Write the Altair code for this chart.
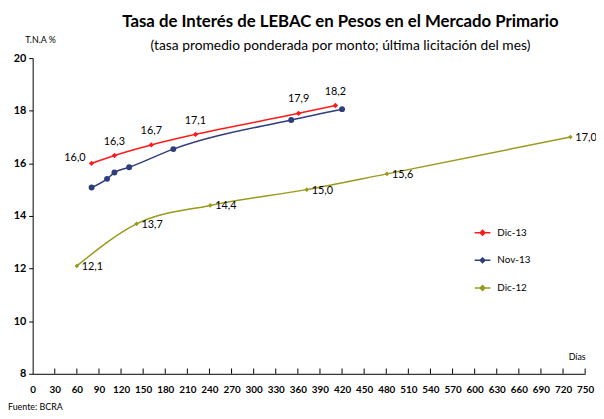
import altair as alt
import pandas as pd

series_names = ["Dic-13", "Nov-13", "Dic-12"]
series_colors = ["#ff1a1a", "#2f3d7c", "#999a1c"]

dic13_dias = [80, 111, 161, 221, 361, 411]
dic13_tasa = [16.0, 16.3, 16.7, 17.1, 17.9, 18.2]
nov13_dias = [80, 101, 111, 131, 191, 351, 420]
nov13_tasa = [15.08, 15.41, 15.65, 15.85, 16.54, 17.65, 18.06]
dic12_dias = [60, 141, 241, 372, 481, 730]
dic12_tasa = [12.1, 13.7, 14.4, 15.0, 15.6, 17.0]

x_ticks = list(range(0, 751, 30))
y_ticks = list(range(8, 21, 2))

rows = []
for name, dias, tasa in [("Dic-13", dic13_dias, dic13_tasa),
                         ("Nov-13", nov13_dias, nov13_tasa),
                         ("Dic-12", dic12_dias, dic12_tasa)]:
    for i, (d, t) in enumerate(zip(dias, tasa)):
        rows.append({"serie": name, "dias": d, "tasa": t, "orden": i,
                     "label": f"{t:.1f}".replace(".", ",")})
df = pd.DataFrame(rows)
ticks_df = pd.DataFrame({"dias": x_ticks[1:], "y0": [8] * (len(x_ticks) - 1),
                         "y1": [8.2] * (len(x_ticks) - 1)})

FONT = "Lato"
xscale = alt.Scale(domain=[0, 750], nice=False, zero=False)
yscale = alt.Scale(domain=[8, 20], nice=False, zero=False)

x_enc = alt.X("dias:Q", scale=xscale, axis=alt.Axis(
    values=x_ticks, tickCount=len(x_ticks) + 2, title="Días", titleX=560,
    titleAlign="right", titleY=-21))
y_enc = alt.Y("tasa:Q", scale=yscale, axis=alt.Axis(
    values=y_ticks, tickCount=len(y_ticks) + 2, title="T.N.A %", titleAngle=0,
    titleAlign="left", titleBaseline="middle", titleX=-8, titleY=-19))

color = alt.Color("serie:N", scale=alt.Scale(domain=series_names, range=series_colors),
                  legend=alt.Legend(
                      orient="none", legendX=447, legendY=168, title=None,
                      labelFontSize=10, labelFont=FONT, labelColor="black",
                      symbolType="M-1,0L1,0M-0.3,0L0,-0.3L0.3,0L0,0.3Z",
                      symbolSize=256, symbolStrokeWidth=1.5, rowPadding=13,
                      labelOffset=6))

base = alt.Chart(df)
lines = base.mark_line(strokeWidth=1.5, interpolate="monotone").encode(
    x=x_enc, y=y_enc, color=color, order="dias:Q")

color_nolegend = alt.Color("serie:N", scale=alt.Scale(domain=series_names, range=series_colors),
                           legend=None)
xs = alt.X("dias:Q", scale=xscale)
ys = alt.Y("tasa:Q", scale=yscale)
pts_red = base.transform_filter(alt.datum.serie == "Dic-13").mark_point(
    filled=True, shape="diamond", size=30, opacity=1).encode(x=xs, y=ys, color=color_nolegend)
pts_blue = base.transform_filter(alt.datum.serie == "Nov-13").mark_point(
    filled=True, shape="circle", size=36, opacity=1).encode(x=xs, y=ys, color=color_nolegend)
pts_olive = base.transform_filter(alt.datum.serie == "Dic-12").mark_point(
    filled=True, shape="diamond", size=22, opacity=1).encode(x=xs, y=ys, color=color_nolegend)

lab_first = base.transform_filter((alt.datum.serie == "Dic-13") & (alt.datum.orden == 0)).mark_text(
    align="right", baseline="middle", dx=-6, dy=-5, fontSize=11, font=FONT, color="black").encode(
    x=xs, y=ys, text="label:N")
lab_red = base.transform_filter((alt.datum.serie == "Dic-13") & (alt.datum.orden > 0)).mark_text(
    align="center", baseline="middle", dy=-14, fontSize=11, font=FONT, color="black").encode(
    x=xs, y=ys, text="label:N")
lab_olive = base.transform_filter(alt.datum.serie == "Dic-12").mark_text(
    align="left", baseline="middle", dx=5, dy=1, fontSize=11, font=FONT, color="black").encode(
    x=xs, y=ys, text="label:N")

up_ticks = alt.Chart(ticks_df).mark_rule(color="black", strokeWidth=1).encode(
    x=xs, y=alt.Y("y0:Q", scale=yscale), y2="y1:Q")

fuente = alt.Chart(pd.DataFrame({"t": ["Fuente: BCRA"]})).mark_text(
    align="left", baseline="middle", fontSize=9, font=FONT, color="black").encode(
    x=alt.value(-25), y=alt.value(354), text="t:N")

chart = alt.layer(lines, pts_red, pts_blue, pts_olive,
                  lab_first, lab_red, lab_olive, fuente, up_ticks).properties(
    width=560, height=320,
    autosize=alt.AutoSizeParams(type="none"),
    padding={"left": 25, "top": 48, "right": 11, "bottom": 40},
    title=alt.Title(
        "Tasa de Interés de LEBAC en Pesos en el Mercado Primario",
        subtitle="(tasa promedio ponderada por monto; última licitación del mes)",
        anchor="middle", dx=32, fontSize=17, fontWeight="bold", font=FONT,
        subtitleFont=FONT, subtitleFontSize=14, subtitlePadding=9, offset=-19,
        color="black", subtitleColor="black"),
).configure_view(stroke=None).configure_axis(
    grid=False, domainColor="black", tickColor="black",
    labelFont=FONT, labelColor="black", labelFontWeight="bold",
    titleFont=FONT, titleColor="black", titleFontWeight="normal", titleFontSize=9,
).configure_axisX(
    ticks=False, labelPadding=11, labelFontSize=10, labelFlush=False,
    labelOverlap=False, labelSeparation=0, labelBound=False,
).configure_axisY(
    tickSize=4, labelFontSize=11, labelPadding=3,
)

chart.save("out.html", embed_options={"renderer": "svg", "actions": False})
